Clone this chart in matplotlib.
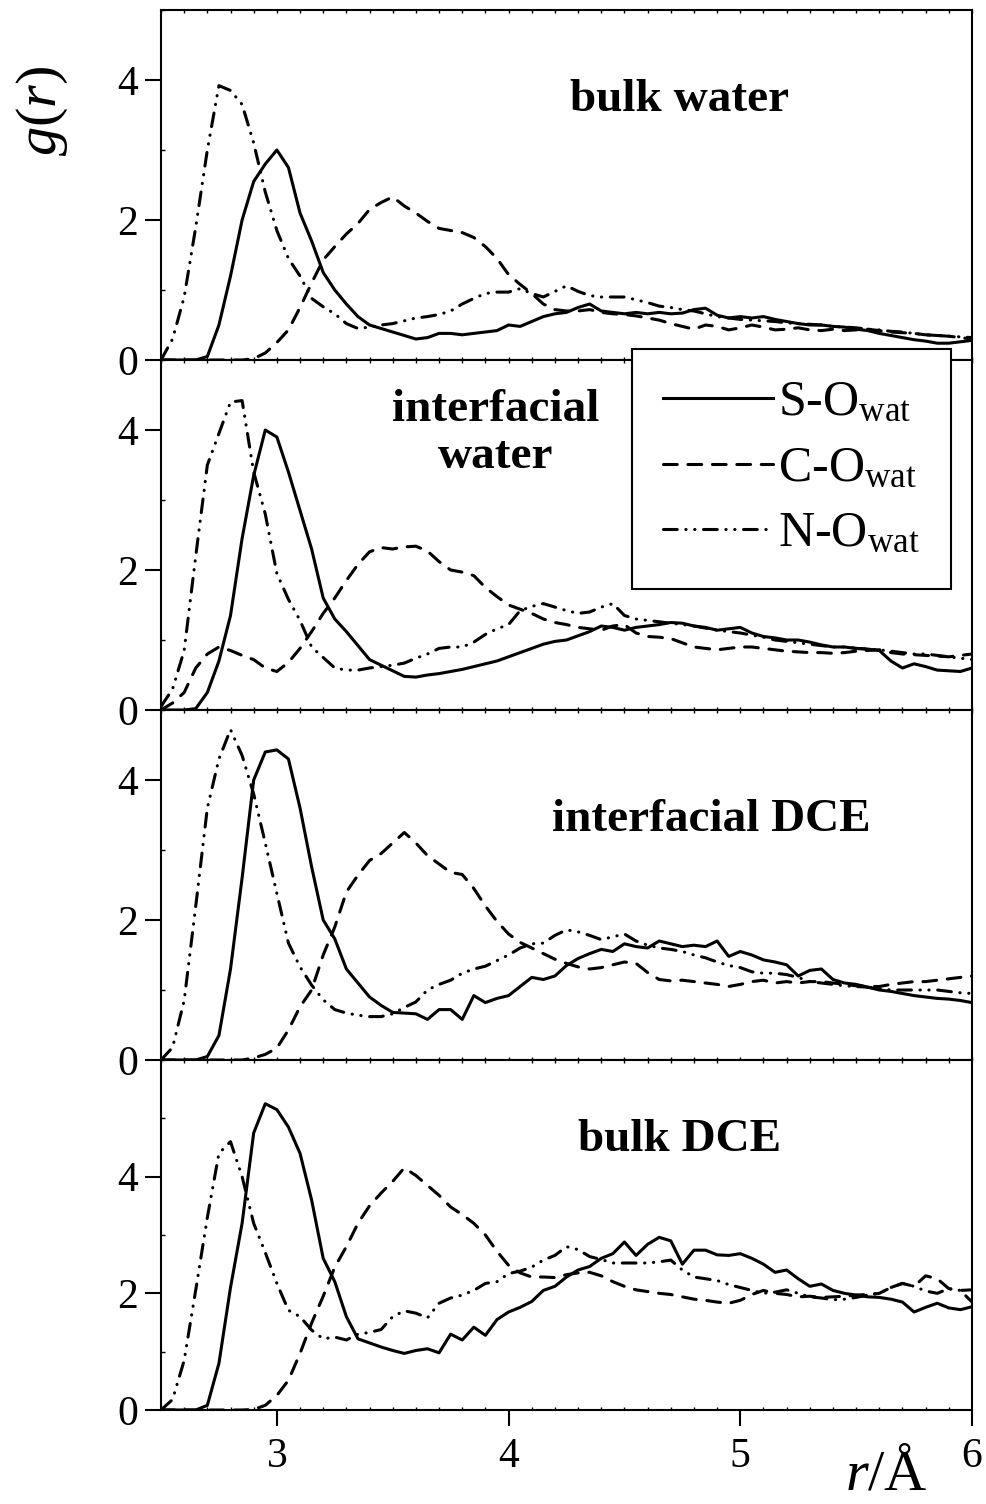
import numpy as np
import matplotlib
matplotlib.use('Agg')
import matplotlib.pyplot as plt
from matplotlib.lines import Line2D
from matplotlib.ticker import MultipleLocator, FixedLocator

plt.rcParams['font.family'] = ['Liberation Serif', 'DejaVu Serif']
plt.rcParams['mathtext.fontset'] = 'custom'
plt.rcParams['mathtext.rm'] = 'Liberation Serif'
plt.rcParams['mathtext.it'] = 'Liberation Serif:italic'

# ---------------- data ----------------
r = np.round(np.arange(2.50, 6.0001, 0.05), 2)

panel_titles = ["bulk water", "interfacial\nwater", "interfacial DCE", "bulk DCE"]
series_labels = [r"S-O$_{\mathrm{wat}}$", r"C-O$_{\mathrm{wat}}$", r"N-O$_{\mathrm{wat}}$"]
x_ticks = [3, 4, 5, 6]
y_ticks = [0, 2, 4]
y_tops = [5, 5, 5, 6]

bw_SO = [0, 0, 0, 0, 0.05, 0.5, 1.2, 2.0, 2.55, 2.8,
         3.0, 2.75, 2.1, 1.7, 1.25, 1.0, 0.8, 0.62, 0.5, 0.45,
         0.4, 0.35, 0.3, 0.32, 0.38, 0.38, 0.36, 0.38, 0.4, 0.42,
         0.5, 0.48, 0.55, 0.62, 0.66, 0.68, 0.75, 0.8, 0.7, 0.68,
         0.66, 0.68, 0.66, 0.68, 0.66, 0.67, 0.72, 0.74, 0.64, 0.6,
         0.62, 0.6, 0.62, 0.58, 0.55, 0.52, 0.5, 0.5, 0.48, 0.47,
         0.44, 0.42, 0.38, 0.35, 0.32, 0.29, 0.27, 0.24, 0.24, 0.26,
         0.28]
bw_CO = [0, 0, 0, 0, 0, 0, 0, 0, 0.02, 0.1,
         0.25, 0.43, 0.75, 1.1, 1.43, 1.62, 1.8, 1.95, 2.15, 2.25,
         2.33, 2.2, 2.1, 1.98, 1.88, 1.85, 1.82, 1.75, 1.62, 1.45,
         1.22, 1.08, 0.95, 0.8, 0.72, 0.7, 0.7, 0.72, 0.68, 0.66,
         0.65, 0.63, 0.6, 0.57, 0.52, 0.48, 0.44, 0.5, 0.48, 0.43,
         0.46, 0.5, 0.47, 0.43, 0.44, 0.46, 0.43, 0.42, 0.44, 0.42,
         0.43, 0.44, 0.42, 0.4, 0.39, 0.38, 0.36, 0.35, 0.34, 0.32,
         0.3]
bw_NO = [0, 0.3, 0.9, 1.9, 3.0, 3.92, 3.85, 3.65, 3.1, 2.4,
         1.85, 1.45, 1.2, 0.88, 0.76, 0.66, 0.52, 0.45, 0.47, 0.5,
         0.52, 0.56, 0.6, 0.62, 0.65, 0.7, 0.8, 0.88, 0.95, 0.97,
         0.97, 1.02, 0.95, 0.9, 0.98, 1.06, 0.98, 0.92, 0.9, 0.9,
         0.9, 0.86, 0.82, 0.77, 0.75, 0.72, 0.7, 0.66, 0.62, 0.6,
         0.58, 0.57, 0.56, 0.55, 0.53, 0.52, 0.51, 0.5, 0.48, 0.47,
         0.46, 0.44, 0.43, 0.41, 0.4, 0.38, 0.36, 0.35, 0.34, 0.33,
         0.32]

iw_SO = [0, 0, 0, 0.02, 0.25, 0.7, 1.35, 2.45, 3.35, 4.0,
         3.9, 3.4, 2.85, 2.3, 1.6, 1.3, 1.12, 0.92, 0.72, 0.64,
         0.56, 0.48, 0.47, 0.5, 0.52, 0.55, 0.58, 0.62, 0.66, 0.7,
         0.76, 0.82, 0.88, 0.94, 0.98, 1.0, 1.06, 1.12, 1.2, 1.18,
         1.14, 1.18, 1.2, 1.22, 1.25, 1.24, 1.2, 1.18, 1.14, 1.16,
         1.18, 1.1, 1.05, 1.03, 1.0, 1.0, 0.97, 0.93, 0.9, 0.9,
         0.88, 0.87, 0.85, 0.7, 0.6, 0.66, 0.62, 0.57, 0.56, 0.55,
         0.6]
iw_CO = [0.0, 0.1, 0.25, 0.6, 0.8, 0.9, 0.85, 0.78, 0.72, 0.6,
         0.55, 0.68, 0.88, 1.12, 1.38, 1.6, 1.85, 2.08, 2.26, 2.32,
         2.3, 2.33, 2.34, 2.27, 2.12, 2.0, 1.97, 1.92, 1.75, 1.62,
         1.5, 1.44, 1.38, 1.3, 1.25, 1.22, 1.18, 1.16, 1.14, 1.2,
         1.22, 1.1, 1.05, 1.04, 1.02, 0.96, 0.9, 0.88, 0.86, 0.88,
         0.9, 0.9, 0.88, 0.86, 0.84, 0.83, 0.82, 0.82, 0.81, 0.82,
         0.84, 0.85, 0.86, 0.82, 0.8, 0.79, 0.78, 0.77, 0.76, 0.78,
         0.8]
iw_NO = [0.05, 0.3, 0.85, 2.2, 3.5, 3.95, 4.4, 4.42, 3.4, 2.8,
         1.95, 1.58, 1.28, 0.9, 0.75, 0.6, 0.57, 0.57, 0.6, 0.62,
         0.64, 0.67, 0.74, 0.8, 0.88, 0.9, 0.9, 0.97, 1.08, 1.16,
         1.22, 1.42, 1.48, 1.52, 1.47, 1.42, 1.38, 1.4, 1.47, 1.52,
         1.35, 1.3, 1.28, 1.26, 1.24, 1.22, 1.2, 1.17, 1.14, 1.12,
         1.1, 1.07, 1.04, 1.0, 0.98, 0.96, 0.94, 0.92, 0.9, 0.9,
         0.88, 0.87, 0.86, 0.84, 0.82, 0.8, 0.8, 0.78, 0.76, 0.74,
         0.72]

id_SO = [0, 0, 0, 0, 0.05, 0.35, 1.3, 2.6, 4.0, 4.4,
         4.43, 4.3, 3.6, 2.76, 2.0, 1.73, 1.3, 1.1, 0.9, 0.78,
         0.68, 0.67, 0.66, 0.58, 0.72, 0.72, 0.58, 0.92, 0.82, 0.88,
         0.92, 1.05, 1.18, 1.15, 1.2, 1.35, 1.45, 1.52, 1.58, 1.55,
         1.66, 1.62, 1.6, 1.7, 1.66, 1.62, 1.64, 1.62, 1.7, 1.48,
         1.55, 1.5, 1.43, 1.4, 1.36, 1.2, 1.28, 1.3, 1.15, 1.1,
         1.08, 1.04, 1.0, 0.98, 0.95, 0.92, 0.9, 0.88, 0.87, 0.85,
         0.82]
id_CO = [0, 0, 0, 0, 0, 0, 0, 0, 0.03, 0.08,
         0.17, 0.43, 0.76, 1.0, 1.5, 1.9, 2.4, 2.64, 2.85, 2.95,
         3.1, 3.25, 3.1, 2.92, 2.8, 2.68, 2.65, 2.45, 2.2, 1.98,
         1.8, 1.68, 1.6, 1.52, 1.44, 1.38, 1.33, 1.3, 1.32, 1.36,
         1.4, 1.38, 1.25, 1.15, 1.13, 1.14, 1.12, 1.1, 1.08, 1.05,
         1.08, 1.12, 1.14, 1.1, 1.12, 1.1, 1.12, 1.12, 1.1, 1.08,
         1.06, 1.05, 1.05, 1.08, 1.1, 1.12, 1.12, 1.14, 1.16, 1.18,
         1.2]
id_NO = [0, 0.18, 0.85, 2.2, 3.6, 4.3, 4.72, 4.35, 3.8, 3.1,
         2.38, 1.67, 1.33, 1.07, 0.86, 0.72, 0.67, 0.64, 0.62, 0.62,
         0.66, 0.75, 0.83, 1.0, 1.08, 1.14, 1.24, 1.3, 1.34, 1.42,
         1.5, 1.6, 1.66, 1.67, 1.78, 1.86, 1.83, 1.78, 1.72, 1.76,
         1.8, 1.7, 1.64, 1.6, 1.58, 1.55, 1.5, 1.46, 1.4, 1.35,
         1.32, 1.26, 1.24, 1.24, 1.22, 1.18, 1.12, 1.1, 1.08, 1.06,
         1.05, 1.04, 1.02, 1.0, 1.0, 1.0, 1.0, 1.0, 0.98, 0.96,
         0.95]

bd_SO = [0, 0, 0, 0, 0.08, 0.8, 2.1, 3.2, 4.75, 5.25,
         5.15, 4.85, 4.4, 3.6, 2.6, 2.2, 1.6, 1.22, 1.15, 1.08,
         1.02, 0.97, 1.02, 1.05, 0.98, 1.3, 1.2, 1.42, 1.28, 1.55,
         1.68, 1.76, 1.86, 2.05, 2.12, 2.28, 2.4, 2.46, 2.6, 2.68,
         2.88, 2.65, 2.84, 2.96, 2.9, 2.5, 2.74, 2.74, 2.66, 2.65,
         2.68, 2.6, 2.5, 2.36, 2.4, 2.25, 2.12, 2.16, 2.05, 2.0,
         1.97, 1.94, 1.93, 1.9, 1.85, 1.68, 1.76, 1.83, 1.75, 1.72,
         1.77]
bd_CO = [0, 0, 0, 0, 0, 0, 0, 0, 0.01, 0.08,
         0.25, 0.51, 0.97, 1.49, 1.95, 2.45, 2.8, 3.2, 3.5, 3.72,
         3.92, 4.15, 4.02, 3.85, 3.68, 3.48, 3.35, 3.2, 3.0, 2.72,
         2.48, 2.35, 2.28, 2.28, 2.27, 2.32, 2.35, 2.36, 2.3, 2.2,
         2.12, 2.06, 2.03, 2.0, 1.98, 1.94, 1.9, 1.88, 1.85, 1.83,
         1.88, 1.98, 2.05, 2.0, 1.98, 1.94, 1.95, 1.93, 1.94, 1.95,
         1.97, 1.98, 2.0, 2.1, 2.17, 2.12, 2.3, 2.25, 2.08, 2.05,
         2.06]
bd_NO = [0, 0.18, 0.85, 2.06, 3.3, 4.4, 4.6, 4.0, 3.2, 2.7,
         2.17, 1.71, 1.6, 1.37, 1.22, 1.25, 1.2, 1.3, 1.33, 1.38,
         1.6, 1.7, 1.66, 1.58, 1.83, 1.92, 1.97, 2.05, 2.17, 2.2,
         2.34, 2.38, 2.45, 2.57, 2.65, 2.8, 2.75, 2.63, 2.58, 2.52,
         2.52, 2.52, 2.52, 2.54, 2.57, 2.4, 2.28, 2.25, 2.22, 2.15,
         2.1, 2.05, 2.0, 2.02, 2.06, 2.0, 1.94, 1.92, 1.89, 1.9,
         1.93, 1.97, 2.0, 2.1, 2.17, 2.12, 2.04, 2.0, 2.08, 2.05,
         1.85]

panels = [(bw_SO, bw_CO, bw_NO), (iw_SO, iw_CO, iw_NO),
          (id_SO, id_CO, id_NO), (bd_SO, bd_CO, bd_NO)]

# ---------------- styles / layout ----------------
LW = 2.2
styles = ['-', (0, (4.5, 3.5)), (0, (4.5, 2.8, 0.1, 2.8, 0.1, 2.8))]

FW, FH = 986, 1504
fig = plt.figure(figsize=(FW / 100, FH / 100), dpi=100)
left = 161 / FW
width = (972 - 161) / FW
ph = 350 / FH
tops_px = [10, 360, 710, 1060]

title_pos = [(0.64, 0.743), (0.412, 0.79), (0.679, 0.686), (0.64, 0.771)]

axes = []
for i in range(4):
    b = 1 - (tops_px[i] + 350) / FH
    ax = fig.add_axes([left, b, width, ph])
    axes.append(ax)
    for s, st in zip(panels[i], styles):
        ax.plot(r, s, color='black', lw=LW, ls=st, dash_capstyle='round',
                solid_joinstyle='round', solid_capstyle='round')
    ax.set_xlim(2.5, 6.0)
    ax.set_ylim(0, y_tops[i])
    ax.yaxis.set_major_locator(FixedLocator(y_ticks))
    ax.yaxis.set_minor_locator(MultipleLocator(1))
    ax.xaxis.set_major_locator(FixedLocator(x_ticks))
    ax.xaxis.set_minor_locator(MultipleLocator(0.1))
    for sp in ax.spines.values():
        sp.set_linewidth(1.5)
    ax.tick_params(axis='y', which='major', direction='out', length=11.5,
                   width=1.5, labelsize=30, pad=5, right=False)
    ax.tick_params(axis='y', which='minor', direction='in', length=3,
                   width=1.0, right=False)
    ax.tick_params(axis='x', which='minor', direction='in', length=2,
                   width=1.0, top=True, bottom=True)
    if i < 3:
        ax.tick_params(axis='x', which='major', direction='in', length=2,
                       width=1.0, top=True, bottom=True, labelbottom=False)
    else:
        ax.tick_params(axis='x', which='major', direction='out', length=11.5,
                       width=1.5, labelsize=30, pad=8, top=False)
    ax.text(title_pos[i][0], title_pos[i][1], panel_titles[i],
            transform=ax.transAxes, ha='center', va='center',
            fontsize=34, fontweight='bold', linespacing=1.15)

# legend
handles = [Line2D([], [], color='black', lw=LW, ls=st,
                  dash_capstyle='round') for st in styles]
leg = fig.legend(handles, series_labels, loc='upper left',
                 bbox_to_anchor=(632 / FW, 1 - 349 / FH), borderaxespad=0,
                 fontsize=36, frameon=True, fancybox=False, framealpha=1,
                 edgecolor='black', handlelength=2.2, handletextpad=0.1,
                 borderpad=0.62, labelspacing=0.38)
leg.get_frame().set_linewidth(1.5)

# axis labels
fig.text(42 / FW, 1 - 111 / FH, r'$g(r)$', rotation=90, ha='center',
         va='center', fontsize=42)
fig.text(845 / FW, 3 / FH, r'$r$/Å', ha='left', va='bottom', fontsize=42)

fig.savefig('out.png', dpi=100)
